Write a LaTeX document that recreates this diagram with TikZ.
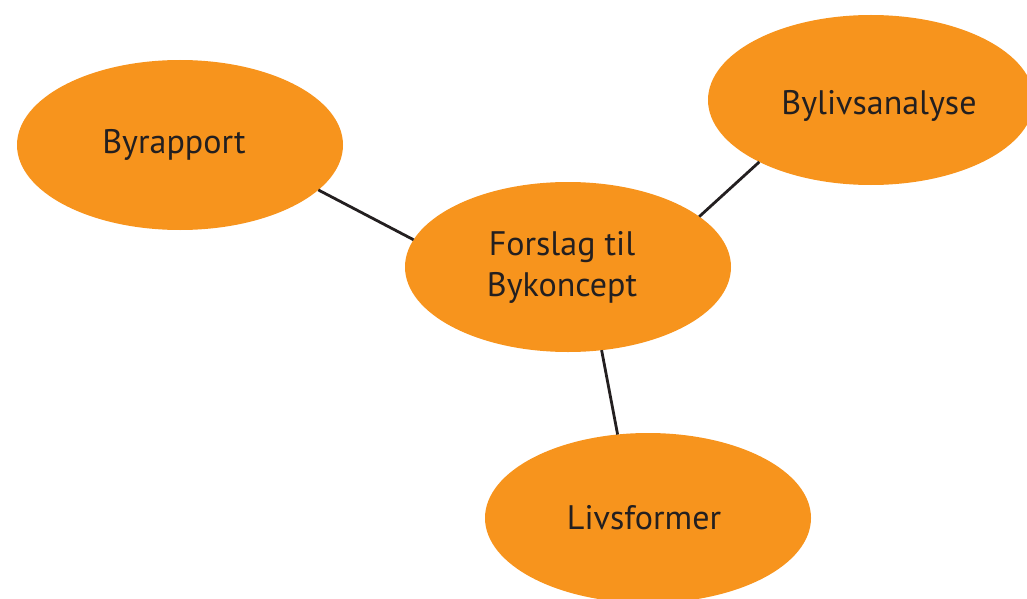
\documentclass[tikz,border=0pt]{standalone}
\usepackage{fontspec}
\setmainfont{PT Sans}
\usetikzlibrary{shapes.geometric}
\definecolor{orng}{HTML}{F7941D}
\definecolor{ink}{HTML}{231F20}
\begin{document}
\begin{tikzpicture}[x=1pt,y=-1pt,
  bubble/.style={ellipse, fill=orng, draw=none, minimum width=326pt, minimum height=170pt,
    inner sep=0pt, outer sep=0pt, text=ink, font=\fontsize{34}{41}\selectfont, align=center},
  link/.style={draw=ink, line width=2.8pt}]
\useasboundingbox (0,0) rectangle (1027,599);
\begin{scope}
\clip (0,0) rectangle (1027,599);
\node[bubble] (a) at (180,145) {Byrapport\hspace*{12pt}};
\node[bubble] (b) at (871,100) {\raisebox{-15pt}[0pt][0pt]{\hspace*{16pt}Bylivsanalyse}};
\node[bubble] (c) at (568,267) {Forslag til\hspace*{12pt}\\Bykoncept\hspace*{12pt}};
\node[bubble] (d) at (648,518) {Livsformer\hspace*{8pt}};
\draw[link] (a.-18) -- (c.170);
\draw[link] (c.21.5) -- (b.209.6);
\draw[link] (c.-68.3) -- (d.110.5);
\end{scope}
\end{tikzpicture}
\end{document}
